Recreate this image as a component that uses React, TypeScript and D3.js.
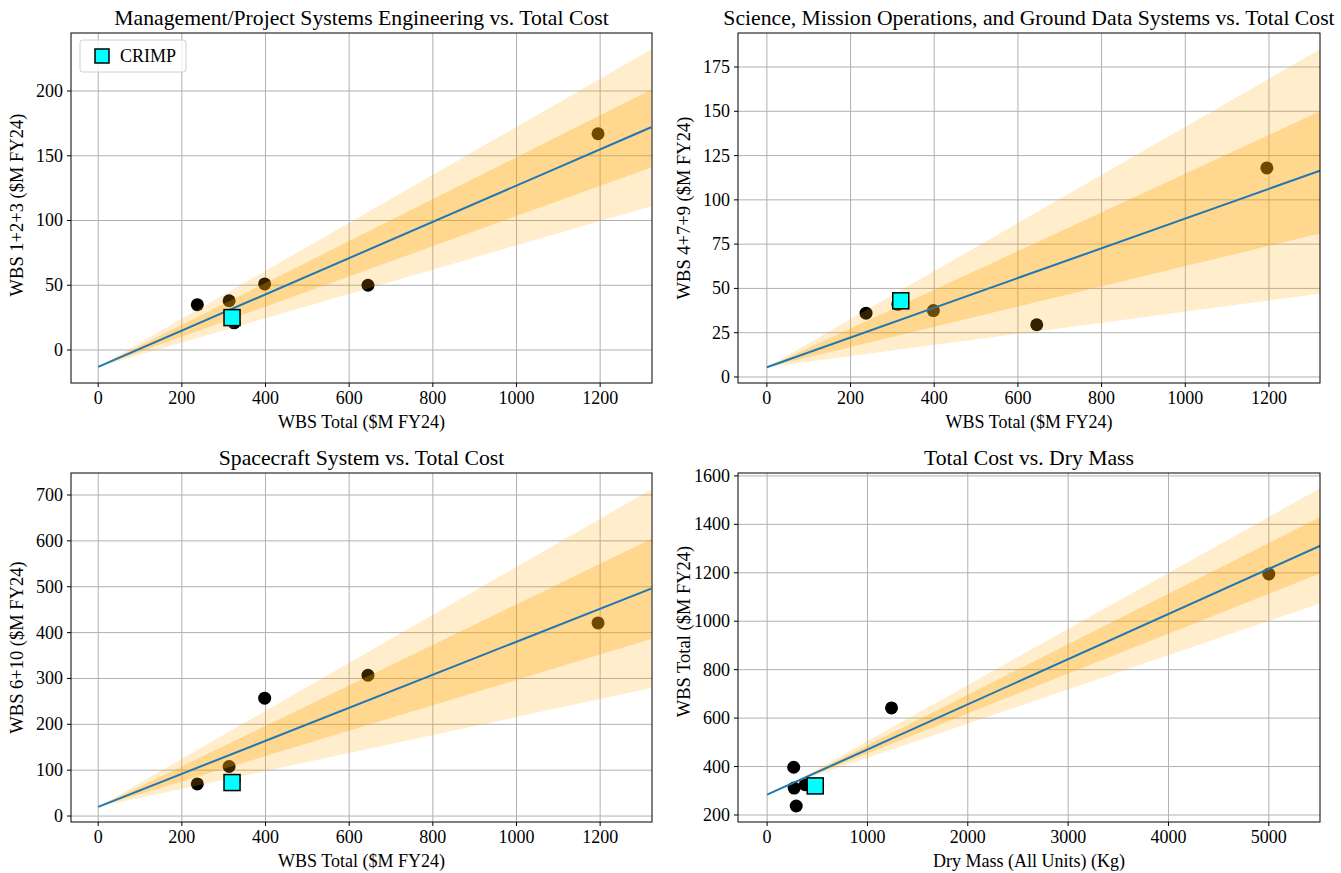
import React from 'react';
import * as d3 from 'd3';

// WBS totals ($M FY24) of the reference missions
const totalCost = [237, 313, 325, 398, 645, 1195];
const wbs123 = [35, 38, 21, 51, 50, 167];
const wbs479 = [36, 41, 42, 37.5, 29.5, 118];
const wbs610 = [70, 108, 78, 257, 307, 421];
const dryMass = [265, 270, 290, 380, 1240, 5000];
const massCost = [397, 311, 237, 325, 642, 1195];

// CRIMP estimates
const crimpTotal = 320;
const crimpMass = 480;
const crimp = { wbs123: 25, wbs479: 43, wbs610: 73, total: 320 };

// fit line and prediction bands: [x0, x1] with matching y values
const fitX = [0, 1322];
const fit123 = [-13, 172];
const band123 = { outerLo: [-13, 111], innerLo: [-13, 141], innerHi: [-13, 201], outerHi: [-13, 232] };
const fit479 = [5.5, 116.5];
const band479 = { outerLo: [5.5, 47], innerLo: [5.5, 81], innerHi: [5.5, 150], outerHi: [5.5, 185] };
const fit610 = [20, 496];
const band610 = { outerLo: [20, 279], innerLo: [20, 386], innerHi: [20, 604], outerHi: [20, 712] };
const fitMassX = [0, 5520];
const fitMass = [284, 1313];
const bandMassX = [230, 5520];
const bandMass = { outerLo: [327, 1075], innerLo: [327, 1199], innerHi: [327, 1431], outerHi: [327, 1551] };

const costTicks = [0, 200, 400, 600, 800, 1000, 1200];
const massTicks = [0, 1000, 2000, 3000, 4000, 5000];
const ticks123 = [0, 50, 100, 150, 200];
const ticks479 = [0, 25, 50, 75, 100, 125, 150, 175];
const ticks610 = [0, 100, 200, 300, 400, 500, 600, 700];
const ticksMass = [200, 400, 600, 800, 1000, 1200, 1400, 1600];

const FONT = '"Liberation Serif", "Times New Roman", serif';

type Band = { outerLo: number[]; innerLo: number[]; innerHi: number[]; outerHi: number[] };

type PanelProps = {
  id: string;
  left: number; right: number; top: number; bottom: number;
  xDomain: [number, number]; yDomain: [number, number];
  xTicks: number[]; yTicks: number[];
  title: string; xLabel: string; yLabel: string;
  px: number[]; py: number[];
  lineX: number[]; lineY: number[];
  bandX: number[]; band: Band;
  cx: number; cy: number;
  legend?: boolean;
  yLabelShift?: number;
};

const Panel = (p: PanelProps) => {
  const x = d3.scaleLinear().domain(p.xDomain).range([p.left, p.right]);
  const y = d3.scaleLinear().domain(p.yDomain).range([p.bottom, p.top]);
  const area = d3.area<number>()
    .x((_, i) => x(p.bandX[i]));
  const areaPath = (lo: number[], hi: number[]) =>
    area.y0((_, i) => y(lo[i])).y1((_, i) => y(hi[i]))(p.bandX) || '';
  const line = d3.line<number>().x((_, i) => x(p.lineX[i])).y(d => y(d));
  const midX = (p.left + p.right) / 2;
  const midY = (p.top + p.bottom) / 2 + (p.yLabelShift || 0);
  return (
    <g>
      <defs>
        <clipPath id={p.id}>
          <rect x={p.left} y={p.top} width={p.right - p.left} height={p.bottom - p.top} />
        </clipPath>
      </defs>
      {/* grid */}
      {p.xTicks.map(t => (
        <line key={'gx' + t} x1={x(t)} x2={x(t)} y1={p.top} y2={p.bottom} stroke="#b0b0b0" strokeWidth={1} />
      ))}
      {p.yTicks.map(t => (
        <line key={'gy' + t} x1={p.left} x2={p.right} y1={y(t)} y2={y(t)} stroke="#b0b0b0" strokeWidth={1} />
      ))}
      <g clipPath={`url(#${p.id})`}>
        {p.px.map((v, i) => (
          <circle key={i} cx={x(v)} cy={y(p.py[i])} r={6.5} fill="#000" />
        ))}
        <path d={areaPath(p.band.outerLo, p.band.outerHi)} fill="#ffa500" fillOpacity={0.2} />
        <path d={areaPath(p.band.innerLo, p.band.innerHi)} fill="#ffa500" fillOpacity={0.3} />
        <path d={line(p.lineY) || ''} fill="none" stroke="#1f77b4" strokeWidth={2} />
        <rect x={x(p.cx) - 8} y={y(p.cy) - 8} width={16} height={16} fill="#00ffff" stroke="#000" strokeWidth={1.5} />
      </g>
      <rect x={p.left} y={p.top} width={p.right - p.left} height={p.bottom - p.top} fill="none" stroke="#000" strokeWidth={1} />
      {/* ticks */}
      {p.xTicks.map(t => (
        <g key={'tx' + t}>
          <line x1={x(t)} x2={x(t)} y1={p.bottom} y2={p.bottom + 4} stroke="#000" />
          <text x={x(t)} y={p.bottom + 21} textAnchor="middle" fontSize={18} fontFamily={FONT}>{t}</text>
        </g>
      ))}
      {p.yTicks.map(t => (
        <g key={'ty' + t}>
          <line x1={p.left - 4} x2={p.left} y1={y(t)} y2={y(t)} stroke="#000" />
          <text x={p.left - 8} y={y(t) + 6} textAnchor="end" fontSize={18} fontFamily={FONT}>{t}</text>
        </g>
      ))}
      <text x={midX} y={p.top - 8} textAnchor="middle" fontSize={21.7} fontFamily={FONT}>{p.title}</text>
      <text x={midX} y={p.bottom + 45} textAnchor="middle" fontSize={18} fontFamily={FONT}>{p.xLabel}</text>
      <text transform={`translate(${p.left - 48},${midY}) rotate(-90)`} textAnchor="middle" fontSize={18.5} fontFamily={FONT}>{p.yLabel}</text>
      {p.legend && (
        <g>
          <rect x={p.left + 9} y={p.top + 7} width={106} height={32} rx={3} fill="#fff" fillOpacity={0.8} stroke="#d0d0d0" />
          <rect x={p.left + 24} y={p.top + 16} width={14} height={14} fill="#00ffff" stroke="#000" strokeWidth={1.5} />
          <text x={p.left + 49} y={p.top + 29} fontSize={18} fontFamily={FONT}>CRIMP</text>
        </g>
      )}
    </g>
  );
};

const App = () => (
  <svg width={1341} height={873} style={{ position: 'absolute', left: 0, top: 0, background: '#fff' }}>
    <Panel id="c1" left={71} right={652} top={33} bottom={383}
      xDomain={[-65, 1324]} yDomain={[-25.5, 244.8]} xTicks={costTicks} yTicks={ticks123}
      title="Management/Project Systems Engineering vs. Total Cost" xLabel="WBS Total ($M FY24)" yLabel="WBS 1+2+3 ($M FY24)"
      px={totalCost} py={wbs123} lineX={fitX} lineY={fit123} bandX={fitX} band={band123}
      cx={crimpTotal} cy={crimp.wbs123} legend yLabelShift={-3} />
    <Panel id="c2" left={738} right={1320} top={33} bottom={383}
      xDomain={[-69, 1322]} yDomain={[-3.4, 194.2]} xTicks={costTicks} yTicks={ticks479}
      title="Science, Mission Operations, and Ground Data Systems vs. Total Cost" xLabel="WBS Total ($M FY24)" yLabel="WBS 4+7+9 ($M FY24)"
      px={totalCost} py={wbs479} lineX={fitX} lineY={fit479} bandX={fitX} band={band479}
      cx={crimpTotal} cy={crimp.wbs479} />
    <Panel id="c3" left={71} right={652} top={473} bottom={822}
      xDomain={[-65, 1324]} yDomain={[-13, 748]} xTicks={costTicks} yTicks={ticks610}
      title="Spacecraft System vs. Total Cost" xLabel="WBS Total ($M FY24)" yLabel="WBS 6+10 ($M FY24)"
      px={totalCost} py={wbs610} lineX={fitX} lineY={fit610} bandX={fitX} band={band610}
      cx={crimpTotal} cy={crimp.wbs610} />
    <Panel id="c4" left={738} right={1320} top={473} bottom={822}
      xDomain={[-290, 5510]} yDomain={[171, 1612]} xTicks={massTicks} yTicks={ticksMass}
      title="Total Cost vs. Dry Mass" xLabel="Dry Mass (All Units) (Kg)" yLabel="WBS Total ($M FY24)"
      px={dryMass} py={massCost} lineX={fitMassX} lineY={fitMass} bandX={bandMassX} band={bandMass}
      cx={crimpMass} cy={crimp.total} yLabelShift={-16} />
  </svg>
);

export default App;
